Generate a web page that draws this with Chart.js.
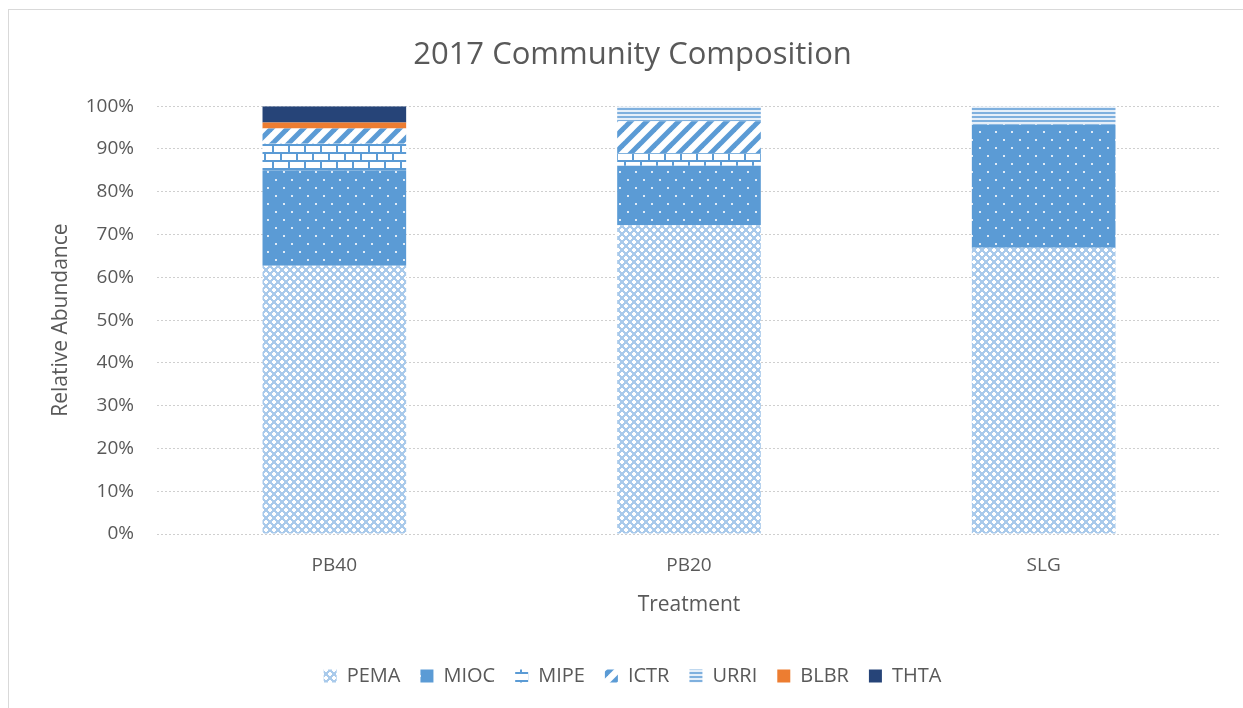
<!DOCTYPE html>
<html>
<head>
<meta charset="utf-8">
<script src="https://cdn.jsdelivr.net/npm/chart.js@4.4.0/dist/chart.umd.min.js"></script>
<style>
  html, body { margin: 0; padding: 0; background: #fff; }
  #wrap { position: relative; width: 1243px; height: 708px; overflow: hidden; }
  #frame { position: absolute; left: 8px; top: 9px; width: 1400px; height: 900px; border: 1px solid #d9d9d9; }
  #chartCanvas { position: absolute; left: 0; top: 0; }
</style>
</head>
<body>
<div id="wrap">
  <div id="frame"></div>
  <canvas id="chartCanvas" width="1243" height="708"></canvas>
</div>
<script>
// data (percent of total per treatment)
const treatments = ['PB40', 'PB20', 'SLG'];
const PEMA = [62.7, 72.2, 66.9];
const MIOC = [22.3, 13.9, 28.8];
const MIPE = [6.2, 2.9, 0];
const ICTR = [3.6, 7.5, 0];
const URRI = [0, 3.5, 4.3];
const BLBR = [1.4, 0, 0];
const THTA = [3.8, 0, 0];
const yTicks = [0, 10, 20, 30, 40, 50, 60, 70, 80, 90, 100];

const blue = '#5b9bd5';
const grey = '#595959';

function tile(w, h, draw) {
    const c = document.createElement('canvas');
    c.width = w; c.height = h;
    const g = c.getContext('2d');
    draw(g);
    return g.createPattern(c, 'repeat');
}

const patPEMA = tile(8, 8, g => {
    g.fillStyle = '#a9caeb';
    g.fillRect(0, 0, 8, 8);
    g.fillStyle = '#ffffff';
    // white plus shapes on a diagonal lattice
    g.fillRect(1, 0, 2, 1); g.fillRect(0, 1, 4, 2); g.fillRect(1, 3, 2, 1);
    g.fillRect(5, 4, 2, 1); g.fillRect(4, 5, 4, 2); g.fillRect(5, 7, 2, 1);
});
const patMIOC = tile(16, 16, g => {
    g.fillStyle = blue;
    g.fillRect(0, 0, 16, 16);
    g.fillStyle = '#dfeaf6';
    g.fillRect(3, 3, 2, 2);
    g.fillRect(11, 11, 2, 2);
});
const patMIPE = tile(16, 16, g => {
    g.fillStyle = '#ffffff';
    g.fillRect(0, 0, 16, 16);
    g.fillStyle = blue;
    g.fillRect(0, 0, 16, 2);
    g.fillRect(0, 8, 16, 2);
    g.fillRect(0, 0, 2, 8);
    g.fillRect(8, 8, 2, 8);
});
const patICTR = tile(16, 16, g => {
    g.fillStyle = '#ffffff';
    g.fillRect(0, 0, 16, 16);
    g.strokeStyle = blue;
    g.lineWidth = 5;
    for (let k = -16; k <= 32; k += 16) {
        g.beginPath();
        g.moveTo(k - 8, 24);
        g.lineTo(k + 24, -8);
        g.stroke();
    }
});
const patURRI = tile(4, 4, g => {
    g.fillStyle = '#e6eff9';
    g.fillRect(0, 0, 4, 4);
    g.fillStyle = '#7fb0de';
    g.fillRect(0, 0, 4, 2);
});

const ds = (label, data, bg) => ({ label, data, backgroundColor: bg, borderWidth: 0, barPercentage: 0.81, categoryPercentage: 0.5 });

const ctx = document.getElementById('chartCanvas').getContext('2d');
const chart = new Chart(ctx, {
    type: 'bar',
    data: {
        labels: treatments,
        datasets: [
            ds('PEMA', PEMA, patPEMA),
            ds('MIOC', MIOC, patMIOC),
            ds('MIPE', MIPE, patMIPE),
            ds('ICTR', ICTR, patICTR),
            ds('URRI', URRI, patURRI),
            ds('BLBR', BLBR, '#ed7d31'),
            ds('THTA', THTA, '#264478')
        ]
    },
    options: {
        responsive: false,
        animation: false,
        layout: { padding: { left: 44, right: 22, top: 37, bottom: 12 } },
        plugins: {
            title: {
                display: true,
                text: '2017 Community Composition',
                color: grey,
                font: { family: 'Open Sans', size: 31, weight: 'normal' },
                padding: { top: 0, bottom: 32 }
            },
            legend: {
                position: 'bottom',
                labels: {
                    color: grey,
                    font: { family: 'Open Sans', size: 20 },
                    boxWidth: 13,
                    boxHeight: 13,
                    padding: 20
                }
            },
            tooltip: { enabled: false }
        },
        scales: {
            x: {
                stacked: true,
                grid: { display: false },
                border: { display: false },
                ticks: { color: grey, font: { family: 'Open Sans', size: 19 }, padding: 12 },
                title: {
                    display: true, text: 'Treatment', color: grey,
                    font: { family: 'Open Sans', size: 21 }, padding: { top: 4, bottom: 28 }
                }
            },
            y: {
                stacked: true,
                min: 0,
                max: 100,
                afterBuildTicks: axis => { axis.ticks = yTicks.map(v => ({ value: v })); },
                afterFit: axis => { axis.width = 113; },
                grid: { color: '#cfcfcf', lineWidth: 1, drawTicks: false },
                border: { display: false, dash: [2, 2] },
                ticks: {
                    color: grey, font: { family: 'Open Sans', size: 19 }, padding: 23,
                    callback: v => v + '%'
                },
                title: {
                    display: true, text: 'Relative Abundance', color: grey,
                    font: { family: 'Open Sans', size: 21 }, padding: { bottom: 4 }
                }
            }
        }
    }
});
</script>
</body>
</html>
